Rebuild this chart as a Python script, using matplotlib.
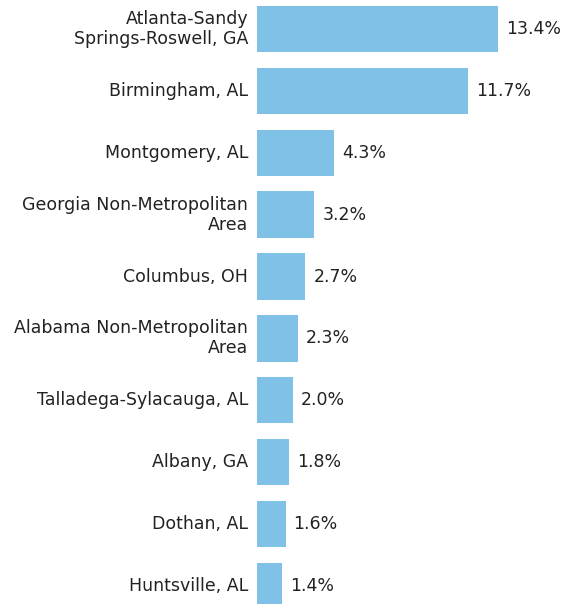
import matplotlib.pyplot as plt
import numpy as np

areas = [
    "Atlanta-Sandy\nSprings-Roswell, GA",
    "Birmingham, AL",
    "Montgomery, AL",
    "Georgia Non-Metropolitan\nArea",
    "Columbus, OH",
    "Alabama Non-Metropolitan\nArea",
    "Talladega-Sylacauga, AL",
    "Albany, GA",
    "Dothan, AL",
    "Huntsville, AL",
]
shares = [13.4, 11.7, 4.3, 3.2, 2.7, 2.3, 2.0, 1.8, 1.6, 1.4]

W, H = 571, 604
fig = plt.figure(figsize=(W / 100, H / 100), dpi=100)
ax_left = 256.7
ax = fig.add_axes([ax_left / W, 0, (W - ax_left) / W, 1])

y = np.arange(len(areas))
step = 61.9
top_center = 28.9
ax.barh(y, shares, height=46.3 / step, color="#80c1e7", edgecolor="none")

px_per_unit = 18.03
ax.set_xlim(0, (W - ax_left) / px_per_unit)
ax.set_ylim((H - top_center) / step, -top_center / step)

text_color = "#222222"
for yi, v in zip(y, shares):
    ax.text(v + 8 / px_per_unit, yi, f"{v:.1f}%", va="center", ha="left",
            fontsize=12.5, color=text_color)
for yi, name in zip(y, areas):
    ax.text(-8.5 / px_per_unit, yi, name, va="center", ha="right",
            fontsize=12.5, color=text_color, linespacing=1.15)

ax.axis("off")
fig.savefig("out.png", dpi=100)
